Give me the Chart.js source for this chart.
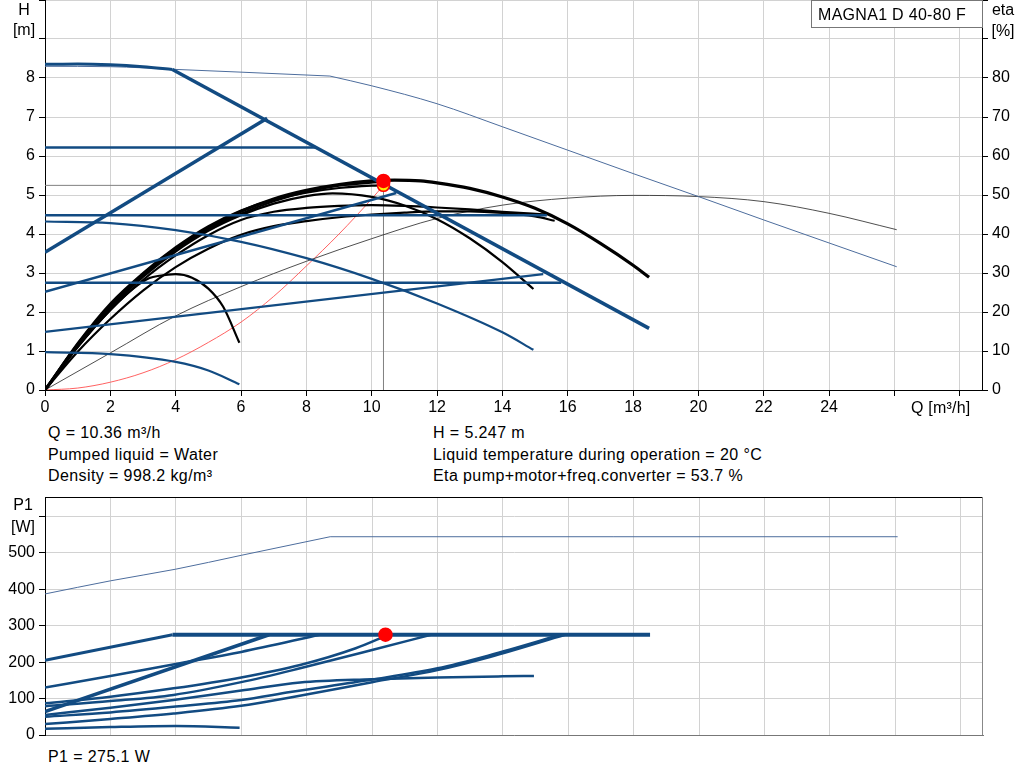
<!DOCTYPE html>
<html><head><meta charset="utf-8">
<script src="https://cdn.jsdelivr.net/npm/chart.js@4.4.1/dist/chart.umd.min.js"></script>
<style>
body{margin:0;background:#fff;width:1024px;height:781px;overflow:hidden;position:relative;font-family:"Liberation Sans",Arial,sans-serif;color:#000}
canvas{position:absolute;left:0}
.t{position:absolute;font-size:16px;line-height:18px;white-space:nowrap;letter-spacing:0.4px}
.c{text-align:center;width:40px;letter-spacing:0}
#box{position:absolute;left:811px;top:0;border:1px solid #777;background:#fff;font-size:16px;line-height:27px;padding-left:6px;box-sizing:border-box;width:172px;height:28px;letter-spacing:0.3px}
</style></head><body>
<canvas id="top" style="top:0;width:1024px;height:420px" width="1024" height="420"></canvas>
<canvas id="bot" style="top:486px;width:1024px;height:260px" width="1024" height="260"></canvas>
<div class="t c" style="left:4px;top:1px">H</div>
<div class="t c" style="left:4px;top:21px">[m]</div>
<div class="t c" style="left:983px;top:1px">eta</div>
<div class="t c" style="left:983px;top:22px">[%]</div>
<div id="box">MAGNA1 D 40-80 F</div>
<div class="t" style="left:911px;top:399px;letter-spacing:0.2px">Q [m³/h]</div>
<div class="t" style="left:48px;top:424px">Q = 10.36 m³/h</div>
<div class="t" style="left:48px;top:446px">Pumped liquid = Water</div>
<div class="t" style="left:48px;top:467px">Density = 998.2 kg/m³</div>
<div class="t" style="left:433px;top:424px">H = 5.247 m</div>
<div class="t" style="left:433px;top:446px">Liquid temperature during operation = 20 °C</div>
<div class="t" style="left:433px;top:467px">Eta pump+motor+freq.converter = 53.7 %</div>
<div class="t c" style="left:3px;top:496px">P1</div>
<div class="t c" style="left:3px;top:518px">[W]</div>
<div class="t" style="left:48px;top:748px">P1 = 275.1 W</div>
<script>
// ---- tick labels ----
const qTickLabels = [0,2,4,6,8,10,12,14,16,18,20,22,24];
const hTickLabels = [0,1,2,3,4,5,6,7,8];
const etaTickLabels = [0,10,20,30,40,50,60,70,80];
const p1TickLabels = [0,100,200,300,400,500];

// ---- duty point ----
const dutyPoint = [[10.36,5.247]];
const dutyOnCurve = [[10.36,5.36]];
const dutyHLine = [[0,5.247],[10.36,5.247]];
const dutyVLine = [[10.36,0],[10.36,5.247]];
const dutyP1 = [[10.41,275.1]];

// ---- H curves (blue, control lines) [Q, H] ----
const maxCurveThick = [[0,8.35],[1,8.36],[2,8.34],[3,8.29],[3.9,8.22]];
const propPressMax = [[3.9,8.22],[18.49,1.58]];
const maxCurveThinA = [[0,8.3],[2,8.29],[4,8.22],[6,8.15],[8.72,8.05]];
const maxCurveThinB = [[8.72,8.05],[10,7.8],[12,7.34],[14,6.75],[16,6.15],[18,5.55],[20,4.96],[22,4.36],[24,3.77],[26.07,3.16]];
const propPressHigh = [[0,3.53],[6.8,6.97]];
const constPressHigh = [[0,6.22],[8.3,6.22]];
const constPressMid = [[0,4.48],[15.36,4.48]];
const propPressMid = [[0,2.52],[10.75,5.05]];
const constCurveMid = [[0,4.32],[2,4.28],[4,4.1],[6,3.8],[8,3.38],[10,2.85],[12,2.22],[14,1.48],[14.95,1.03]];
const constPressLow = [[0,2.75],[15.8,2.75]];
const propPressLow = [[0,1.49],[15.25,2.97]];
const minCurve = [[0,0.97],[2,0.92],[4,0.72],[5,0.5],[5.95,0.15]];

// ---- H curves (black) ----
const hqBig = [[0,0],[1,1.15],[2,2.15],[3,2.95],[4,3.62],[5,4.15],[6,4.58],[7,4.9],[8,5.12],[9,5.27],[10,5.36],[10.7,5.38],[11.5,5.36],[12,5.31],[13,5.17],[14,4.95],[15,4.66],[16,4.26],[17,3.76],[18,3.2],[18.49,2.89]];
const hqPeak5 = [[0,0],[1,1.12],[2,2.1],[3,2.9],[4,3.55],[5,4.08],[6,4.48],[7,4.78],[8,4.97],[8.8,5.04],[10,4.95],[11,4.73],[12,4.38],[13,3.89],[14,3.28],[14.95,2.59]];
const hqFlatHigh = [[0,0],[1,1.1],[2,2.05],[3,2.82],[4,3.45],[5,3.97],[6,4.36],[7,4.57],[8,4.67],[9,4.72],[10,4.74],[11,4.72],[12,4.68],[13,4.63],[14,4.57],[15.36,4.5]];
const hqFlatLow = [[0,0],[1,0.98],[2,1.82],[3,2.55],[4,3.15],[5,3.62],[6,3.98],[7,4.2],[8,4.33],[9,4.43],[10,4.5],[11,4.55],[12,4.58],[13,4.58],[14,4.54],[15,4.45],[15.6,4.34]];
const hqDutyA = [[0,0],[1,1.2],[2,2.22],[3,3.0],[4,3.66],[5,4.2],[6,4.6],[7,4.88],[8,5.06],[9,5.18],[10,5.24],[10.36,5.25]];
const hqDutyB = [[0,0],[1,1.18],[2,2.18],[3,2.98],[4,3.6],[5,4.12],[6,4.52],[7,4.84],[8,5.08],[9,5.24],[10.36,5.34]];
const hqSmall = [[0,0],[1,1.1],[2,2.05],[2.7,2.6],[3.2,2.87],[3.5,2.93],[4,2.97],[4.5,2.88],[5,2.6],[5.45,2.14],[5.95,1.21]];

// ---- eta [Q, %] and system curve [Q, H] ----
const etaCurve = [[0,0],[2,9.5],[4,19],[6,26.5],[8,33],[10,38.8],[12,44],[14,47.4],[16,49.2],[18,49.9],[20,49.6],[22,48.3],[24,45.3],[26.07,41.1]];
const systemCurve = [[0,0],[1,0.05],[2,0.2],[3,0.44],[4,0.78],[5,1.22],[6,1.74],[7,2.4],[8,3.18],[9,4.0],[10,4.9],[10.36,5.247]];

// ---- P1 curves [Q, W] ----
const p1Max = [[0,387],[2,423],[4,455],[6,493],[8.72,544]];
const p1MaxFlat = [[8.72,544],[26.07,544]];
const p1Limit = [[0,205],[3.9,275]];
const p1LimitFlat = [[3.9,275],[18.5,275]];
const p1B = [[0,130],[2,162],[4,195],[6,228],[8.4,275]];
const p1C = [[0,64],[6.85,275]];
const p1D = [[0,55],[2,75],[3.93,96],[6,122],[7.8,144],[10,153],[12,158],[14,161],[14.95,162]];
const p1E = [[0,87],[2,105],[3.93,128],[6,158],[7.8,192],[9.5,238],[10.5,275]];
const p1F = [[0,79],[2,93],[3.93,110],[6,145],[7.8,183],[10,233],[11.8,275]];
const p1G = [[0,50],[2,62],[4,78],[6,96],[7.5,118],[10,152],[12,183],[13.6,219],[15.76,275]];
const p1H = [[0,30],[2,44],[3.93,59],[6,80],[7.5,103],[10,145],[12,178],[13.6,214],[15.9,275]];
const p1Min = [[0,17],[2,22],[4,25],[5.95,20]];

const BLUE = '#124b82', THINBLUE = '#4d6d9d';
Chart.defaults.font.family = '"Liberation Sans", Arial, sans-serif';
Chart.defaults.font.size = 16;
Chart.defaults.color = '#000';

function ds(pts, color, w, opt) {
  opt = opt || {};
  return Object.assign({
    data: pts.map(p => ({x: p[0], y: p[1]})),
    showLine: true, borderColor: color, borderWidth: w,
    pointRadius: 0, pointHoverRadius: 0, fill: false,
    tension: 0, cubicInterpolationMode: opt.curve ? 'monotone' : 'default',
    yAxisID: opt.axis || 'y'
  }, opt.extra || {});
}
function pt(pts, fill, border, r) {
  return {data: pts.map(p => ({x: p[0], y: p[1]})), showLine: false,
    pointRadius: r, pointBackgroundColor: fill, pointBorderColor: border, pointBorderWidth: 1.5, yAxisID: 'y'};
}
const GRID = '#d2d2d2';
const framePlugin = {
  id: 'frame',
  afterDraw(chart, args, o) {
    if (!o || !o.on) return;
    const a = chart.chartArea, c = chart.ctx;
    c.save();
    c.lineWidth = 1;
    c.strokeStyle = '#000';
    c.beginPath(); c.moveTo(a.left, a.top + 0.5); c.lineTo(a.right, a.top + 0.5); c.stroke();
    c.strokeStyle = '#888';
    c.beginPath(); c.moveTo(a.right - 0.5, a.top); c.lineTo(a.right - 0.5, a.bottom); c.stroke();
    c.restore();
  }
};

new Chart(document.getElementById('top'), {
  type: 'scatter',
  data: { datasets: [
    pt(dutyOnCurve, '#ff0000', '#ff0000', 6.5),
    pt(dutyPoint, '#ffee00', '#ff0000', 6),
    ds(maxCurveThick, BLUE, 3, {curve: true}),
    ds(propPressMax, BLUE, 3.5),
    ds(propPressHigh, BLUE, 3.5),
    ds(constPressHigh, BLUE, 2.5),
    ds(constPressMid, BLUE, 2.5),
    ds(propPressMid, BLUE, 2.5),
    ds(constCurveMid, BLUE, 2.2, {curve: true}),
    ds(constPressLow, BLUE, 2.5),
    ds(propPressLow, BLUE, 2.2),
    ds(minCurve, BLUE, 2.2, {curve: true}),
    ds(maxCurveThinA, THINBLUE, 1, {curve: true}),
    ds(maxCurveThinB, THINBLUE, 1, {curve: true}),
    ds(hqBig, '#000', 3.2, {curve: true}),
    ds(hqDutyA, '#000', 2.2, {curve: true}),
    ds(hqDutyB, '#000', 2.2, {curve: true}),
    ds(hqPeak5, '#000', 2.2, {curve: true}),
    ds(hqFlatHigh, '#000', 2.2, {curve: true}),
    ds(hqFlatLow, '#000', 2.2, {curve: true}),
    ds(hqSmall, '#000', 2.2, {curve: true}),
    ds(etaCurve, '#222', 0.8, {curve: true, axis: 'y2'}),
    ds(systemCurve, '#ff5050', 0.9, {curve: true}),
    ds(dutyHLine, '#808080', 1),
    ds(dutyVLine, '#808080', 1)
  ]},
  options: {
    responsive: false, animation: false, events: [],
    layout: {autoPadding: false, padding: 0},
    plugins: {legend: {display: false}, tooltip: {enabled: false}},
    scales: {
      x: {type: 'linear', min: 0, max: 28.68,
        ticks: {stepSize: 2, includeBounds: false, padding: 2, maxRotation: 0, autoSkip: false,
          callback: v => qTickLabels.includes(v) ? String(v) : ''},
        grid: {color: GRID, tickColor: '#000', tickLength: 6},
        border: {color: '#000', width: 1},
        afterFit: s => { s.height = 30; s.paddingLeft = 0; s.paddingRight = 0; }},
      y: {type: 'linear', position: 'left', min: 0, max: 10,
        ticks: {stepSize: 1, includeBounds: false, padding: 4, autoSkip: false,
          callback: v => hTickLabels.includes(v) ? String(v) : ''},
        grid: {color: GRID, tickColor: '#000', tickLength: 6},
        border: {color: '#000', width: 1},
        afterFit: s => { s.width = 45; s.paddingTop = 0; s.paddingBottom = 0; }},
      y2: {type: 'linear', position: 'right', min: 0, max: 100,
        ticks: {stepSize: 10, includeBounds: false, padding: 4, autoSkip: false,
          callback: v => etaTickLabels.includes(v) ? String(v) : ''},
        grid: {drawOnChartArea: false, tickColor: '#000', tickLength: 6},
        border: {color: '#000', width: 1},
        afterFit: s => { s.width = 42; s.paddingTop = 0; s.paddingBottom = 0; }}
    }
  }
});

new Chart(document.getElementById('bot'), {
  type: 'scatter',
  plugins: [framePlugin],
  data: { datasets: [
    pt(dutyP1, '#ff0000', '#ff0000', 6.5),
    ds(p1Limit, BLUE, 3),
    ds(p1LimitFlat, BLUE, 4),
    ds(p1B, BLUE, 2.5, {curve: true}),
    ds(p1C, BLUE, 3.5),
    ds(p1D, BLUE, 2.5, {curve: true}),
    ds(p1E, BLUE, 2.5, {curve: true}),
    ds(p1F, BLUE, 2.5, {curve: true}),
    ds(p1G, BLUE, 2.5, {curve: true}),
    ds(p1H, BLUE, 2.5, {curve: true}),
    ds(p1Min, BLUE, 2.5, {curve: true}),
    ds(p1Max, THINBLUE, 1, {curve: true}),
    ds(p1MaxFlat, THINBLUE, 1)
  ]},
  options: {
    responsive: false, animation: false, events: [],
    layout: {autoPadding: false, padding: {top: 11, right: 41, left: 0, bottom: 0}},
    plugins: {legend: {display: false}, tooltip: {enabled: false}, frame: {on: true}},
    scales: {
      x: {type: 'linear', min: 0, max: 28.68,
        ticks: {display: false, stepSize: 2, includeBounds: false},
        grid: {color: GRID, drawTicks: false},
        border: {color: '#777', width: 1},
        afterFit: s => { s.height = 11; s.paddingLeft = 0; s.paddingRight = 0; }},
      y: {type: 'linear', position: 'left', min: 0, max: 653,
        ticks: {stepSize: 100, includeBounds: false, padding: 4, autoSkip: false,
          callback: v => p1TickLabels.includes(v) ? String(v) : ''},
        grid: {color: GRID, tickColor: '#000', tickLength: 6},
        border: {color: '#000', width: 1},
        afterFit: s => { s.width = 45; s.paddingTop = 0; s.paddingBottom = 0; }}
    }
  }
});
</script>
</body></html>
